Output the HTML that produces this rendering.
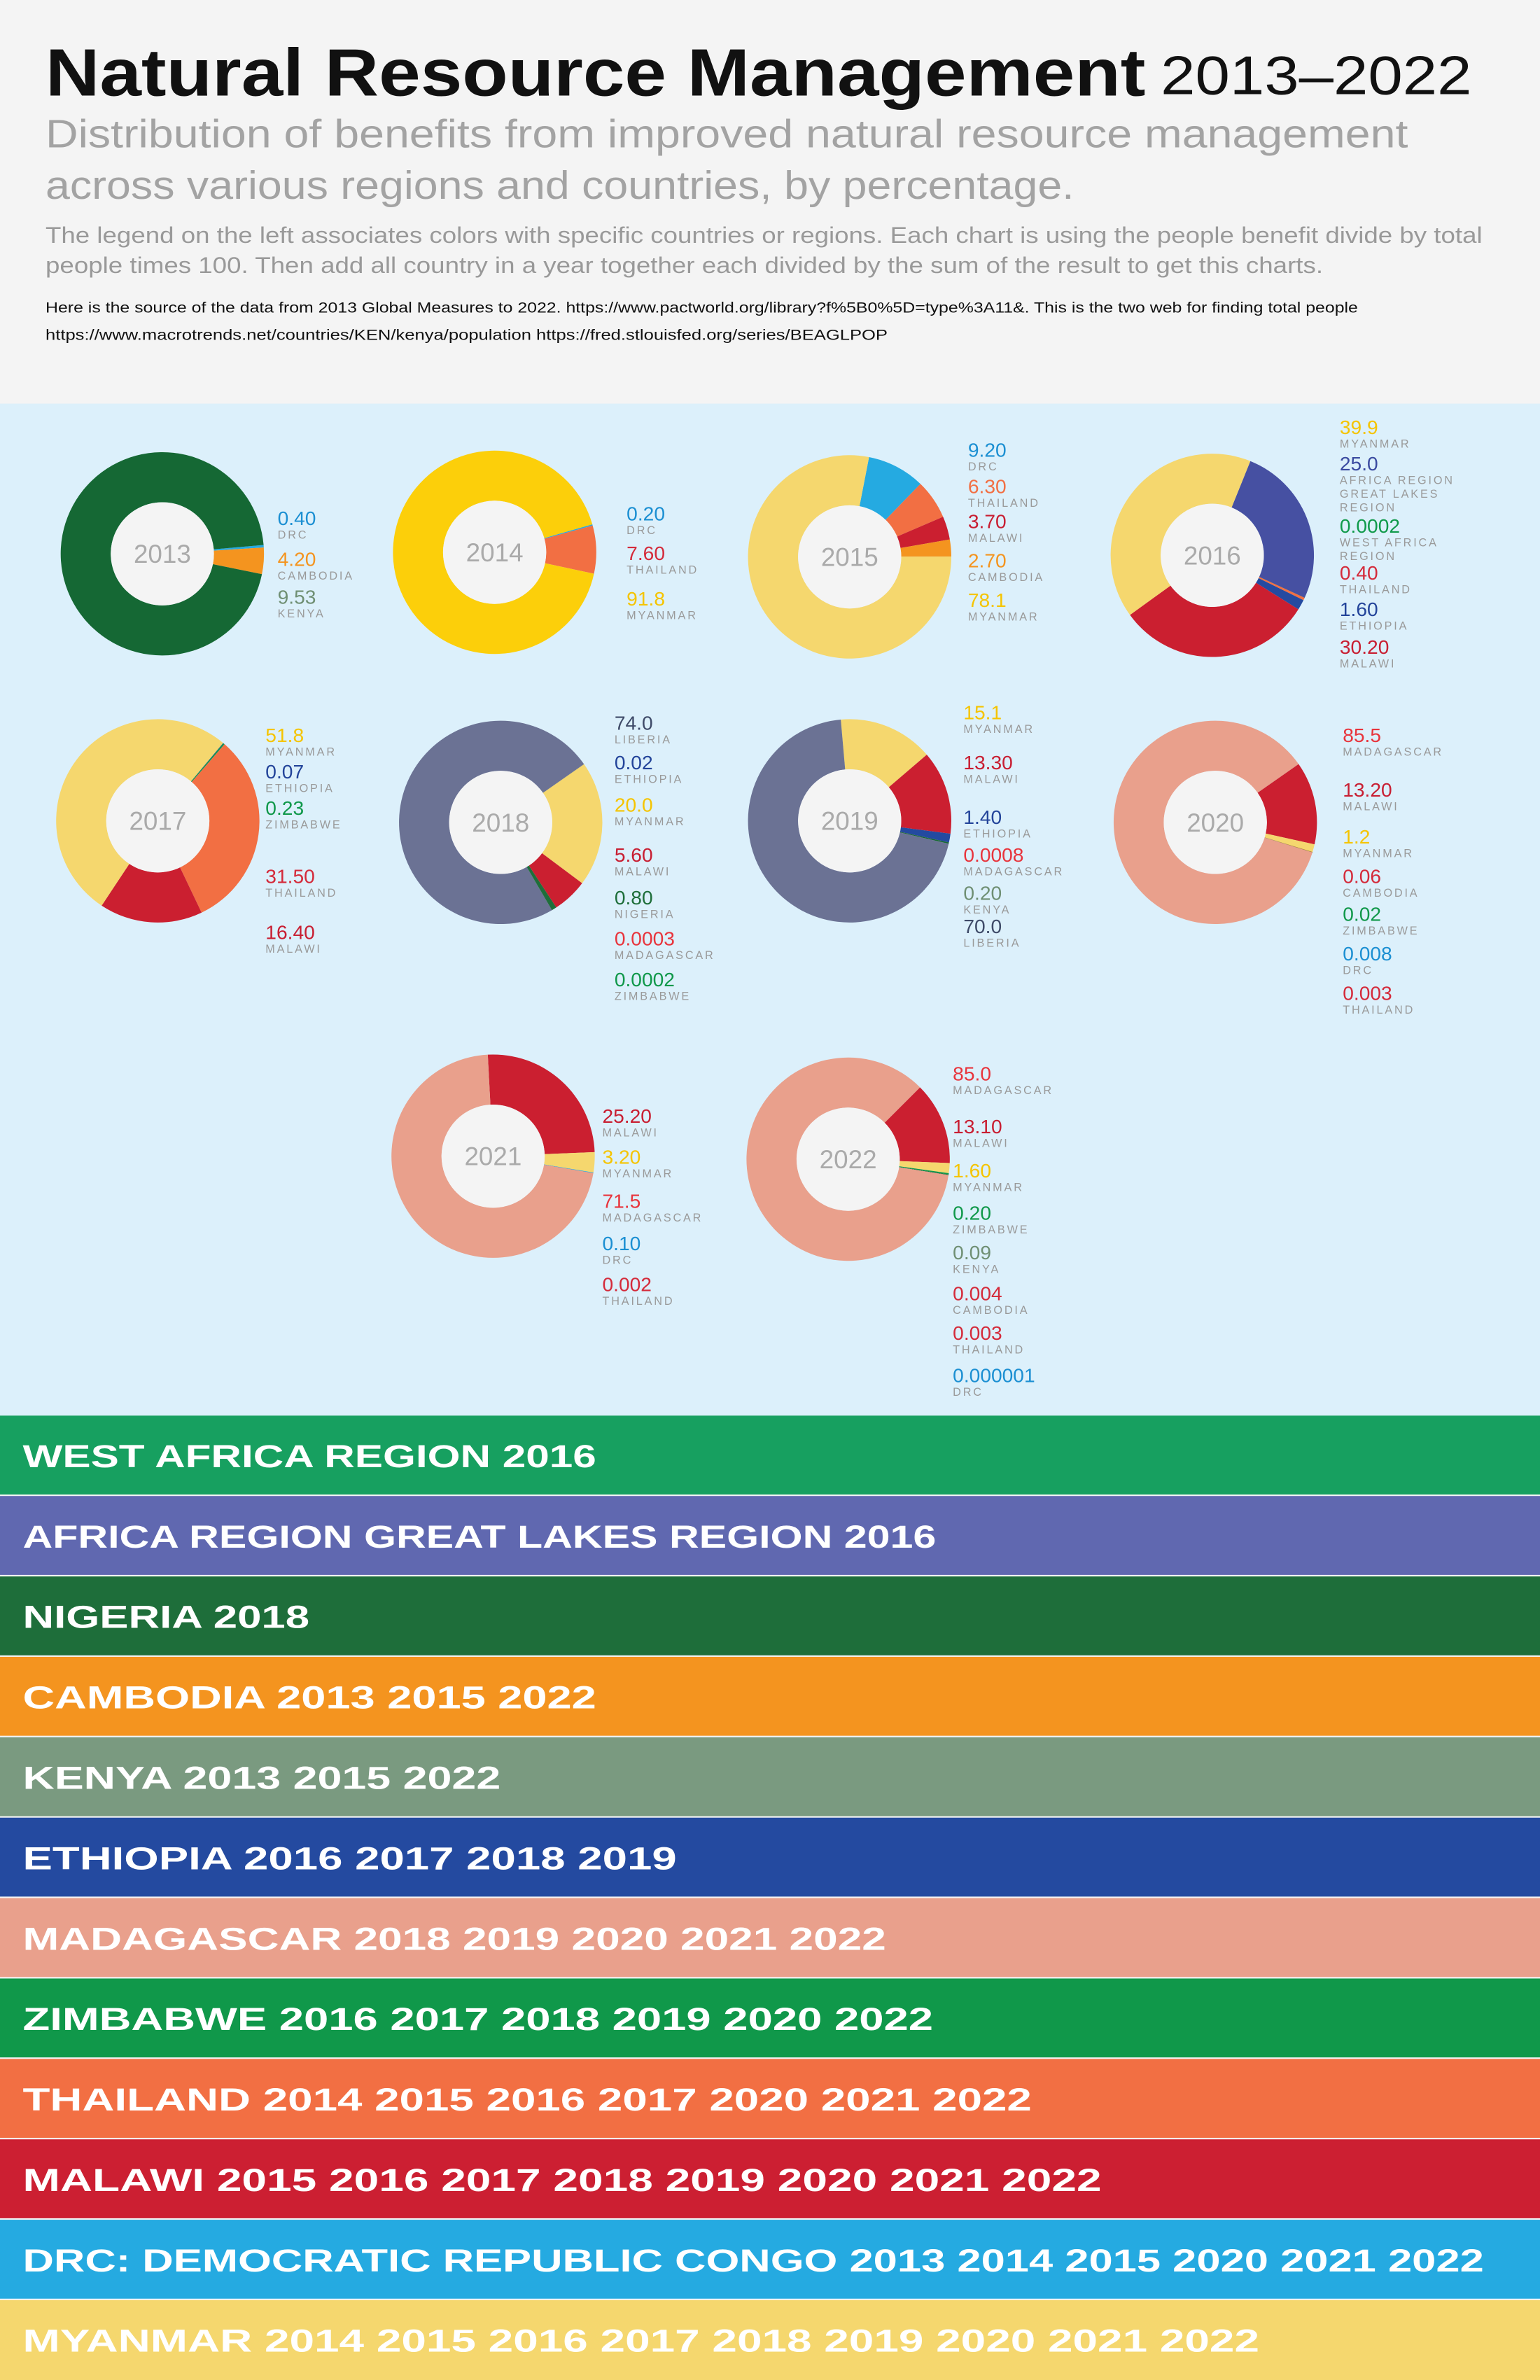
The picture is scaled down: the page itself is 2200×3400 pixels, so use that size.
<!DOCTYPE html>
<html><head><meta charset="utf-8"><title>Natural Resource Management 2013–2022</title>
<style>html,body{margin:0;padding:0;background:#f4f4f4;}svg{display:block;}</style></head>
<body>
<svg id="page" xmlns="http://www.w3.org/2000/svg" width="2200" height="3400" viewBox="0 0 1015 1568.6" font-family="Liberation Sans, sans-serif">
  <rect x="0" y="0" width="1015" height="266" fill="#f4f4f4"/>
  <text x="30" y="63" font-size="44" font-weight="bold" fill="#111" textLength="725" lengthAdjust="spacingAndGlyphs">Natural Resource Management</text>
  <text x="765" y="62" font-size="36" fill="#111" textLength="205" lengthAdjust="spacingAndGlyphs">2013–2022</text>
  <text x="30" y="97" font-size="26" fill="#a3a3a3" textLength="898" lengthAdjust="spacingAndGlyphs">Distribution of benefits from improved natural resource management</text>
  <text x="30" y="131" font-size="26" fill="#a3a3a3" textLength="678" lengthAdjust="spacingAndGlyphs">across various regions and countries, by percentage.</text>
  <text x="30" y="160" font-size="15" fill="#999" textLength="947" lengthAdjust="spacingAndGlyphs">The legend on the left associates colors with specific countries or regions. Each chart is using the people benefit divide by total</text>
  <text x="30" y="180" font-size="15" fill="#999" textLength="842" lengthAdjust="spacingAndGlyphs">people times 100. Then add all country in a year together each divided by the sum of the result to get this charts.</text>
  <text x="30" y="206" font-size="10" fill="#111" textLength="865" lengthAdjust="spacingAndGlyphs">Here is the source of the data from 2013 Global Measures to 2022. https://www.pactworld.org/library?f%5B0%5D=type%3A11&amp;. This is the two web for finding total people</text>
  <text x="30" y="224" font-size="10" fill="#111" textLength="555" lengthAdjust="spacingAndGlyphs">https://www.macrotrends.net/countries/KEN/kenya/population    https://fred.stlouisfed.org/series/BEAGLPOP</text>
  <rect x="0" y="266" width="1015" height="667" fill="#dcf0fb"/>
  <g id="charts"></g>
  <g id="legend"></g>
</svg>
<script>
const years = [2013,2014,2015,2016,2017,2018,2019,2020,2021,2022];
const names2013 = ["DRC","CAMBODIA","KENYA"];
const values2013 = [0.40,4.20,95.4];
const labels2013 = ["0.40","4.20","9.53"];
const names2014 = ["DRC","THAILAND","MYANMAR"];
const values2014 = [0.20,7.60,91.8];
const labels2014 = ["0.20","7.60","91.8"];
const names2015 = ["DRC","THAILAND","MALAWI","CAMBODIA","MYANMAR"];
const values2015 = [9.20,6.30,3.70,2.70,78.1];
const labels2015 = ["9.20","6.30","3.70","2.70","78.1"];
const names2016 = ["AFRICA REGION|GREAT LAKES|REGION","WEST AFRICA|REGION","THAILAND","ETHIOPIA","MALAWI","MYANMAR"];
const values2016 = [25.0,0.0002,0.40,1.60,30.20,39.9];
const labels2016 = ["25.0","0.0002","0.40","1.60","30.20","39.9"];
const names2017 = ["ETHIOPIA","ZIMBABWE","THAILAND","MALAWI","MYANMAR"];
const values2017 = [0.07,0.23,31.50,16.40,51.8];
const labels2017 = ["0.07","0.23","31.50","16.40","51.8"];
const names2018 = ["ETHIOPIA","MYANMAR","MALAWI","NIGERIA","MADAGASCAR","ZIMBABWE","LIBERIA"];
const values2018 = [0.02,20.0,5.60,0.80,0.0003,0.0002,74.0];
const labels2018 = ["0.02","20.0","5.60","0.80","0.0003","0.0002","74.0"];
const names2019 = ["MYANMAR","MALAWI","ETHIOPIA","MADAGASCAR","KENYA","LIBERIA"];
const values2019 = [15.1,13.30,1.40,0.0008,0.20,70.0];
const labels2019 = ["15.1","13.30","1.40","0.0008","0.20","70.0"];
const names2020 = ["MALAWI","MYANMAR","CAMBODIA","ZIMBABWE","DRC","THAILAND","MADAGASCAR"];
const values2020 = [13.20,1.2,0.06,0.02,0.008,0.003,85.5];
const labels2020 = ["13.20","1.2","0.06","0.02","0.008","0.003","85.5"];
const names2021 = ["MALAWI","MYANMAR","DRC","THAILAND","MADAGASCAR"];
const values2021 = [25.20,3.20,0.10,0.002,71.5];
const labels2021 = ["25.20","3.20","0.10","0.002","71.5"];
const names2022 = ["MALAWI","MYANMAR","ZIMBABWE","KENYA","CAMBODIA","THAILAND","DRC","MADAGASCAR"];
const values2022 = [13.10,1.60,0.20,0.09,0.004,0.003,0.000001,85.0];
const labels2022 = ["13.10","1.60","0.20","0.09","0.004","0.003","0.000001","85.0"];
const legendLabels = ["WEST AFRICA REGION 2016","AFRICA REGION GREAT LAKES REGION 2016","NIGERIA 2018","CAMBODIA 2013 2015 2022","KENYA 2013 2015 2022","ETHIOPIA 2016 2017 2018 2019","MADAGASCAR 2018 2019 2020 2021 2022","ZIMBABWE 2016 2017 2018 2019 2020 2022","THAILAND 2014 2015 2016 2017 2020 2021 2022","MALAWI 2015 2016 2017 2018 2019 2020 2021 2022","DRC: DEMOCRATIC REPUBLIC CONGO 2013 2014 2015 2020 2021 2022","MYANMAR 2014 2015 2016 2017 2018 2019 2020 2021 2022"];

const NS="http://www.w3.org/2000/svg";
const sliceColor={"DRC":"#25aae1","CAMBODIA":"#f4941f","KENYA":"#156834","THAILAND":"#f26f43","MYANMAR":"#f5d76e","MALAWI":"#cb1f30","AFRICA REGION|GREAT LAKES|REGION":"#4650a2","WEST AFRICA|REGION":"#17a060","ETHIOPIA":"#244aa0","ZIMBABWE":"#10984a","LIBERIA":"#6b7294","NIGERIA":"#1e6e3a","MADAGASCAR":"#e9a08c"};
const textColor={"DRC":"#1b8fd2","CAMBODIA":"#f4941f","KENYA":"#6f8f73","THAILAND":"#d42a3a","MYANMAR":"#f5c400","MALAWI":"#c81e32","AFRICA REGION|GREAT LAKES|REGION":"#3a4aa0","WEST AFRICA|REGION":"#0f9a4a","ETHIOPIA":"#23449a","ZIMBABWE":"#10984a","LIBERIA":"#3e4a68","NIGERIA":"#1e6e3a","MADAGASCAR":"#e8343c"};
const legendColors=["#17a060","#6068b0","#1e6e3a","#f4941f","#7a9a80","#244aa0","#e9a08c","#10984a","#f26f43","#cc1f32","#25aae1","#f5d76e"];
const layout={
 2013:{cx:107,cy:365,start:85,lx:183,ly:[346,373,398]},
 2014:{cx:326,cy:364,start:74,lx:413,ly:[343,369,399]},
 2015:{cx:560,cy:367,start:11,lx:638,ly:[301,325,348,374,400]},
 2016:{cx:799,cy:366,start:22,lx:883,ly:[310,351,382,406,431,286]},
 2017:{cx:104,cy:541,start:40,lx:175,ly:[513,537,582,619,489]},
 2018:{cx:330,cy:542,start:55,lx:405,ly:[507,535,568,596,623,650,481]},
 2019:{cx:560,cy:541,start:-5,lx:635,ly:[474,507,543,568,593,615]},
 2020:{cx:801,cy:542,start:55,lx:885,ly:[525,556,582,607,633,659,489]},
 2021:{cx:325,cy:762,start:-3,lx:397,ly:[740,767,824,851,796]},
 2022:{cx:559,cy:764,start:45,lx:628,ly:[747,776,804,830,857,883,911,712]}
};
const R=67, r=34;
function pt(cx,cy,rad,deg){const a=(deg-90)*Math.PI/180;return [cx+rad*Math.cos(a),cy+rad*Math.sin(a)];}
function arcPath(cx,cy,a0,a1){
  const large=(a1-a0)>180?1:0;
  const p0=pt(cx,cy,R,a0),p1=pt(cx,cy,R,a1),q1=pt(cx,cy,r,a1),q0=pt(cx,cy,r,a0);
  return `M${p0[0]},${p0[1]}A${R},${R} 0 ${large} 1 ${p1[0]},${p1[1]}L${q1[0]},${q1[1]}A${r},${r} 0 ${large} 0 ${q0[0]},${q0[1]}Z`;
}
const charts=document.getElementById('charts');
const dataByYear={2013:[names2013,values2013,labels2013],2014:[names2014,values2014,labels2014],2015:[names2015,values2015,labels2015],2016:[names2016,values2016,labels2016],2017:[names2017,values2017,labels2017],2018:[names2018,values2018,labels2018],2019:[names2019,values2019,labels2019],2020:[names2020,values2020,labels2020],2021:[names2021,values2021,labels2021],2022:[names2022,values2022,labels2022]};
years.forEach(y=>{
  const [nm,vals,labs]=dataByYear[y]; const L=layout[y];
  const g=document.createElementNS(NS,'g');
  
  
  charts.appendChild(g);
  const total=vals.reduce((a,b)=>a+b,0);
  let a=L.start;
  vals.forEach((v,i)=>{
    const span=v/total*360; if(span<=0)return;
    const p=document.createElementNS(NS,'path');
    
    
    p.setAttribute('d',arcPath(L.cx,L.cy,a,a+Math.max(span,0.3)));
    let col=sliceColor[nm[i]]; if(y===2014&&nm[i]==="MYANMAR")col="#fccf0a";
    p.setAttribute('fill',col);
    g.appendChild(p); a+=span;
  });
  const hole=document.createElementNS(NS,'circle');
  
  
  hole.setAttribute('cx',L.cx);hole.setAttribute('cy',L.cy);hole.setAttribute('r',r);hole.setAttribute('fill','#f4f4f4');
  g.appendChild(hole);
  const yt=document.createElementNS(NS,'text');
  
  
  yt.setAttribute('x',L.cx);yt.setAttribute('y',L.cy+6);yt.setAttribute('text-anchor','middle');yt.setAttribute('font-size','17');yt.setAttribute('fill','#aaa');
  yt.textContent=y; g.appendChild(yt);
  labs.forEach((lab,i)=>{
    const vy=L.ly[i];
    const t=document.createElementNS(NS,'text');
    
    
    t.setAttribute('x',L.lx);t.setAttribute('y',vy);t.setAttribute('font-size','13');
    let c=textColor[nm[i]]; if(y===2015&&nm[i]==="THAILAND")c="#f26f43"; if((y===2020||y===2022)&&nm[i]==="CAMBODIA")c="#d42a3a";
    t.setAttribute('fill',c); t.textContent=lab; g.appendChild(t);
    nm[i].split('|').forEach((line,k)=>{
      const n=document.createElementNS(NS,'text');
      
      
      n.setAttribute('x',L.lx);n.setAttribute('y',vy+9+k*9);n.setAttribute('font-size','7.5');n.setAttribute('letter-spacing','1.3');n.setAttribute('fill','#9a9a9a');
      n.textContent=line; g.appendChild(n);
    });
  });
});
const legend=document.getElementById('legend');
const legendEnds=[393,617,204,393,330,446,584,615,680,726,978,830];
legendLabels.forEach((lab,i)=>{
  const top=933+i*53;
  const rc=document.createElementNS(NS,'rect');
  
  
  rc.setAttribute('x',0);rc.setAttribute('y',top);rc.setAttribute('width',1015);rc.setAttribute('height',i===11?54:52);rc.setAttribute('fill',legendColors[i]);
  legend.appendChild(rc);
  const t=document.createElementNS(NS,'text');
  
  
  t.setAttribute('x',15);t.setAttribute('y',top+34);t.setAttribute('font-size','21');t.setAttribute('font-weight','bold');t.setAttribute('fill','#fff');
  t.setAttribute('textLength',legendEnds[i]-15);t.setAttribute('lengthAdjust','spacingAndGlyphs');
  t.textContent=lab; legend.appendChild(t);
});
</script>
</body></html>
